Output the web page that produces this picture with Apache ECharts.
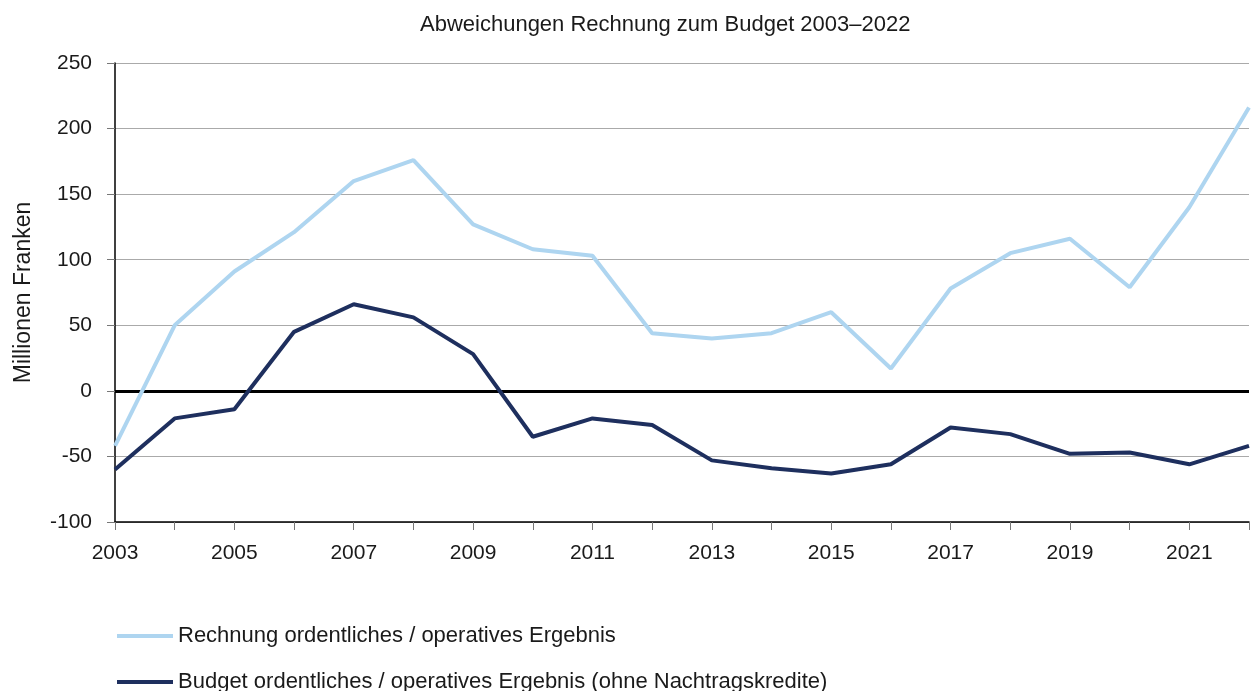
<!DOCTYPE html>
<html>
<head>
<meta charset="utf-8">
<script src="https://cdn.jsdelivr.net/npm/echarts@6/dist/echarts.min.js"></script>
<style>
  html, body { margin: 0; padding: 0; background: #fff; }
  #chart { width: 1253px; height: 691px; }
</style>
</head>
<body>
<div id="chart"></div>
<script>
// Years on the horizontal axis
const years = ['2003','2004','2005','2006','2007','2008','2009','2010','2011','2012',
               '2013','2014','2015','2016','2017','2018','2019','2020','2021','2022'];

// Deviations from budget, in million francs
const rechnung = [-42, 50, 91, 121, 160, 176, 127, 108, 103, 44,
                  40, 44, 60, 17, 78, 105, 116, 79, 140, 216];
const budget = [-60, -21, -14, 45, 66, 56, 28, -35, -21, -26,
                -53, -59, -63, -56, -28, -33, -48, -47, -56, -42];

const yTicks = { min: -100, max: 250, interval: 50 };

const NAME_R = 'Rechnung ordentliches / operatives Ergebnis';
const NAME_B = 'Budget ordentliches / operatives Ergebnis (ohne Nachtragskredite)';

const FONT = '"Liberation Sans", Arial, sans-serif';
const TEXT = '#1a1a1a';
const LIGHT = '#aed5f0';
const DARK = '#1e2f5e';

function legendRow(name, color, top) {
  return {
    orient: 'horizontal',
    left: 112,
    top: top,
    itemWidth: 56,
    itemHeight: 4,
    icon: 'rect',
    selectedMode: false,
    textStyle: { fontFamily: FONT, fontSize: 22, color: TEXT },
    data: [{ name: name, itemStyle: { color: color } }]
  };
}

const chart = echarts.init(document.getElementById('chart'), null, { renderer: 'canvas' });
chart.setOption({
  backgroundColor: '#ffffff',
  animation: false,
  textStyle: { fontFamily: FONT, color: TEXT },
  title: {
    text: 'Abweichungen Rechnung zum Budget 2003\u20132022',
    left: 415,
    top: 9,
    textStyle: { fontFamily: FONT, fontSize: 22, fontWeight: 'normal', color: TEXT }
  },
  legend: [
    legendRow(NAME_R, LIGHT, 620),
    legendRow(NAME_B, DARK, 666)
  ],
  grid: { left: 115, right: 4, top: 63, bottom: 169, containLabel: false },
  xAxis: {
    type: 'category',
    data: years,
    boundaryGap: false,
    axisLine: { onZero: false, lineStyle: { color: '#000', width: 1.5 } },
    axisTick: { show: true, length: 8, interval: 0, lineStyle: { color: '#777' } },
    axisLabel: { interval: 1, margin: 21, fontFamily: FONT, fontSize: 21, color: TEXT },
    splitLine: { show: false }
  },
  yAxis: {
    type: 'value',
    min: yTicks.min,
    max: yTicks.max,
    interval: yTicks.interval,
    name: 'Millionen Franken',
    nameLocation: 'middle',
    nameGap: 80,
    nameTextStyle: { fontFamily: FONT, fontSize: 23, color: TEXT },
    axisLine: { show: true, lineStyle: { color: '#000', width: 1.5 } },
    axisTick: { show: true, length: 8, lineStyle: { color: '#777' } },
    axisLabel: { margin: 23, fontFamily: FONT, fontSize: 21, color: TEXT },
    splitLine: { show: true, lineStyle: { color: '#aaaaaa', width: 1.2 } }
  },
  series: [
    {
      name: NAME_R,
      type: 'line',
      data: rechnung,
      symbol: 'none',
      lineStyle: { color: LIGHT, width: 4 },
      itemStyle: { color: LIGHT },
      z: 3
    },
    {
      name: NAME_B,
      type: 'line',
      data: budget,
      symbol: 'none',
      lineStyle: { color: DARK, width: 4 },
      itemStyle: { color: DARK },
      z: 4,
      markLine: {
        silent: true,
        symbol: 'none',
        label: { show: false },
        lineStyle: { color: '#000', width: 3, type: 'solid' },
        data: [{ yAxis: 0 }],
        z: 2
      }
    }
  ]
});
</script>
</body>
</html>
